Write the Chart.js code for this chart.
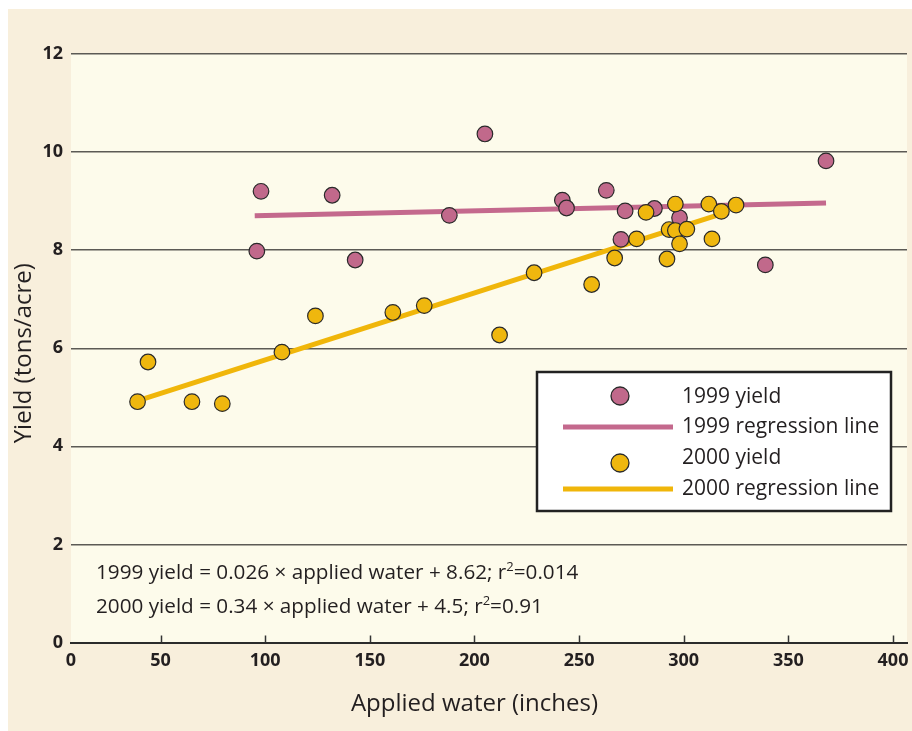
<!DOCTYPE html>
<html>
<head>
<meta charset="utf-8">
<title>Yield vs applied water</title>
<script src="https://cdn.jsdelivr.net/npm/chart.js@4.4.1/dist/chart.umd.min.js"></script>
<style>
  html, body { margin: 0; padding: 0; background: #ffffff; }
  #wrap { width: 912px; height: 731px; position: relative; }
</style>
</head>
<body>
<div id="wrap"><canvas id="chart" width="912" height="731"></canvas></div>
<script>
// 1999 observations
const water1999 = [96, 98, 132, 143, 188, 205, 242, 244, 263, 270, 272, 286, 298, 339, 368];
const yield1999 = [7.98, 9.20, 9.12, 7.80, 8.71, 10.37, 9.02, 8.86, 9.22, 8.22, 8.80, 8.85, 8.66, 7.70, 9.82];

// 2000 observations
const water2000 = [39, 44, 65, 79.5, 108, 124, 161, 176, 212, 228.5, 256, 267, 277.5, 282, 292, 293, 296, 296, 301.5, 298, 312, 313.5, 318, 325];
const yield2000 = [4.91, 5.72, 4.91, 4.87, 5.92, 6.66, 6.73, 6.87, 6.27, 7.54, 7.30, 7.84, 8.23, 8.77, 7.82, 8.42, 8.94, 8.40, 8.43, 8.13, 8.94, 8.23, 8.79, 8.92];

// regression line end points
const fit1999X = [95, 368];
const fit1999Y = [8.70, 8.96];
const fit2000X = [38.5, 318];
const fit2000Y = [4.92, 8.74];

const xTickValues = [50, 100, 150, 200, 250, 300, 350, 400];
const yTickValues = [0, 2, 4, 6, 8, 10, 12];

const seriesLabels = ['1999 yield', '1999 regression line', '2000 yield', '2000 regression line'];
const equations = [
  ['1999 yield = 0.026 \u00d7 applied water + 8.62; r', '2', '=0.014'],
  ['2000 yield = 0.34 \u00d7 applied water + 4.5; r', '2', '=0.91']
];

const PINK = '#c1698b';
const PINK_LINE = '#c4698d';
const GOLD = '#efb70e';
const GOLD_LINE = '#f0b60a';
const INK = '#231f20';
const FONT = "'Open Sans', sans-serif";

const pairs = (xs, ys) => xs.map((x, i) => ({ x: x, y: ys[i] }));

// page + plot backgrounds
const backdrop = {
  id: 'backdrop',
  beforeDraw(chart) {
    const { ctx, chartArea: a } = chart;
    ctx.save();
    ctx.fillStyle = '#ffffff';
    ctx.fillRect(0, 0, chart.width, chart.height);
    ctx.fillStyle = '#f8efdc';
    ctx.fillRect(8, 9, chart.width - 8, chart.height - 9);
    ctx.fillStyle = '#fdfbeb';
    ctx.fillRect(a.left, a.top, a.right - a.left, a.bottom - a.top);
    ctx.restore();
  }
};

// inward tick marks, titles, equations and legend box
const extras = {
  id: 'extras',
  afterDraw(chart) {
    const { ctx, chartArea: a } = chart;
    const xs = chart.scales.x;
    ctx.save();

    ctx.strokeStyle = '#333333';
    ctx.lineWidth = 1.5;
    xTickValues.forEach(v => {
      const px = Math.round(xs.getPixelForValue(v)) + 0.5;
      ctx.beginPath();
      ctx.moveTo(px, a.bottom);
      ctx.lineTo(px, a.bottom - 7);
      ctx.stroke();
    });

    // axis titles
    ctx.fillStyle = INK;
    ctx.font = '24px ' + FONT;
    ctx.textAlign = 'center';
    ctx.textBaseline = 'middle';
    ctx.fillText('Applied water (inches)', xs.getPixelForValue(200), 704);
    ctx.translate(24, (a.top + a.bottom) / 2 + 5);
    ctx.rotate(-Math.PI / 2);
    ctx.fillText('Yield (tons/acre)', 0, 0);
    ctx.setTransform(1, 0, 0, 1, 0, 0);

    // regression equations
    ctx.textAlign = 'left';
    ctx.textBaseline = 'alphabetic';
    const baselines = [579, 613];
    equations.forEach((parts, i) => {
      let x = 96;
      ctx.font = '20.7px ' + FONT;
      ctx.fillText(parts[0], x, baselines[i]);
      x += ctx.measureText(parts[0]).width;
      ctx.font = '13px ' + FONT;
      ctx.fillText(parts[1], x, baselines[i] - 8);
      x += ctx.measureText(parts[1]).width;
      ctx.font = '20.7px ' + FONT;
      ctx.fillText(parts[2], x, baselines[i]);
    });

    // legend
    const box = { l: 537, t: 372, r: 891, b: 511 };
    ctx.fillStyle = '#ffffff';
    ctx.fillRect(box.l, box.t, box.r - box.l, box.b - box.t);
    ctx.strokeStyle = '#222222';
    ctx.lineWidth = 2.5;
    ctx.strokeRect(box.l, box.t, box.r - box.l, box.b - box.t);

    const rowMark = [24, 55, 91, 117];
    const rowText = [31, 61, 92, 123];
    chart.data.datasets.forEach((ds, i) => {
      const my = box.t + rowMark[i];
      if (ds.showLine) {
        ctx.strokeStyle = ds.borderColor;
        ctx.lineWidth = 5;
        ctx.beginPath();
        ctx.moveTo(563, my);
        ctx.lineTo(673, my);
        ctx.stroke();
      } else {
        ctx.fillStyle = ds.backgroundColor;
        ctx.strokeStyle = ds.borderColor;
        ctx.lineWidth = 1.3;
        ctx.beginPath();
        ctx.arc(620, my, 9, 0, Math.PI * 2);
        ctx.fill();
        ctx.stroke();
      }
      ctx.fillStyle = INK;
      ctx.font = '21px ' + FONT;
      ctx.fillText(ds.label, 682, box.t + rowText[i]);
    });

    ctx.restore();
  }
};

new Chart(document.getElementById('chart'), {
  type: 'scatter',
  data: {
    datasets: [
      {
        label: seriesLabels[0],
        data: pairs(water1999, yield1999),
        backgroundColor: PINK,
        borderColor: '#2a2a2a',
        borderWidth: 1.2,
        pointRadius: 7.8,
        order: 2
      },
      {
        label: seriesLabels[1],
        data: pairs(fit1999X, fit1999Y),
        showLine: true,
        borderColor: PINK_LINE,
        borderWidth: 5,
        pointRadius: 0,
        fill: false,
        order: 4
      },
      {
        label: seriesLabels[2],
        data: pairs(water2000, yield2000),
        backgroundColor: GOLD,
        borderColor: '#2a2a2a',
        borderWidth: 1.2,
        pointRadius: 7.8,
        order: 1
      },
      {
        label: seriesLabels[3],
        data: pairs(fit2000X, fit2000Y),
        showLine: true,
        borderColor: GOLD_LINE,
        borderWidth: 5,
        pointRadius: 0,
        fill: false,
        order: 3
      }
    ]
  },
  options: {
    responsive: false,
    animation: false,
    layout: { autoPadding: false, padding: { left: 0, top: 54, right: 5, bottom: 0 } },
    plugins: {
      legend: { display: false },
      tooltip: { enabled: false }
    },
    scales: {
      x: {
        type: 'linear',
        min: 7.2,
        max: 406.7,
        afterFit: s => {
          s.height = 88.5;
          s.paddingLeft = 0;
          s.paddingRight = 0;
        },
        afterBuildTicks: s => {
          s.ticks = [{ value: s.min }].concat(xTickValues.map(v => ({ value: v })));
        },
        grid: { display: false, drawTicks: false },
        border: { display: true, color: '#2b2b2b', width: 2 },
        ticks: {
          padding: 8,
          color: INK,
          font: { family: FONT, size: 18, weight: '700' },
          maxRotation: 0,
          callback: (v, i) => (i === 0 ? '0' : String(v))
        }
      },
      y: {
        type: 'linear',
        min: 0,
        max: 12,
        afterFit: s => {
          s.width = 71;
          s.paddingTop = 0;
          s.paddingBottom = 0;
        },
        afterBuildTicks: s => {
          s.ticks = yTickValues.map(v => ({ value: v }));
        },
        grid: { color: '#5c5a55', lineWidth: 1.5, drawTicks: false },
        border: { display: false },
        ticks: {
          padding: 8,
          color: INK,
          font: { family: FONT, size: 18, weight: '700' }
        }
      }
    }
  },
  plugins: [backdrop, extras]
});
</script>
</body>
</html>
